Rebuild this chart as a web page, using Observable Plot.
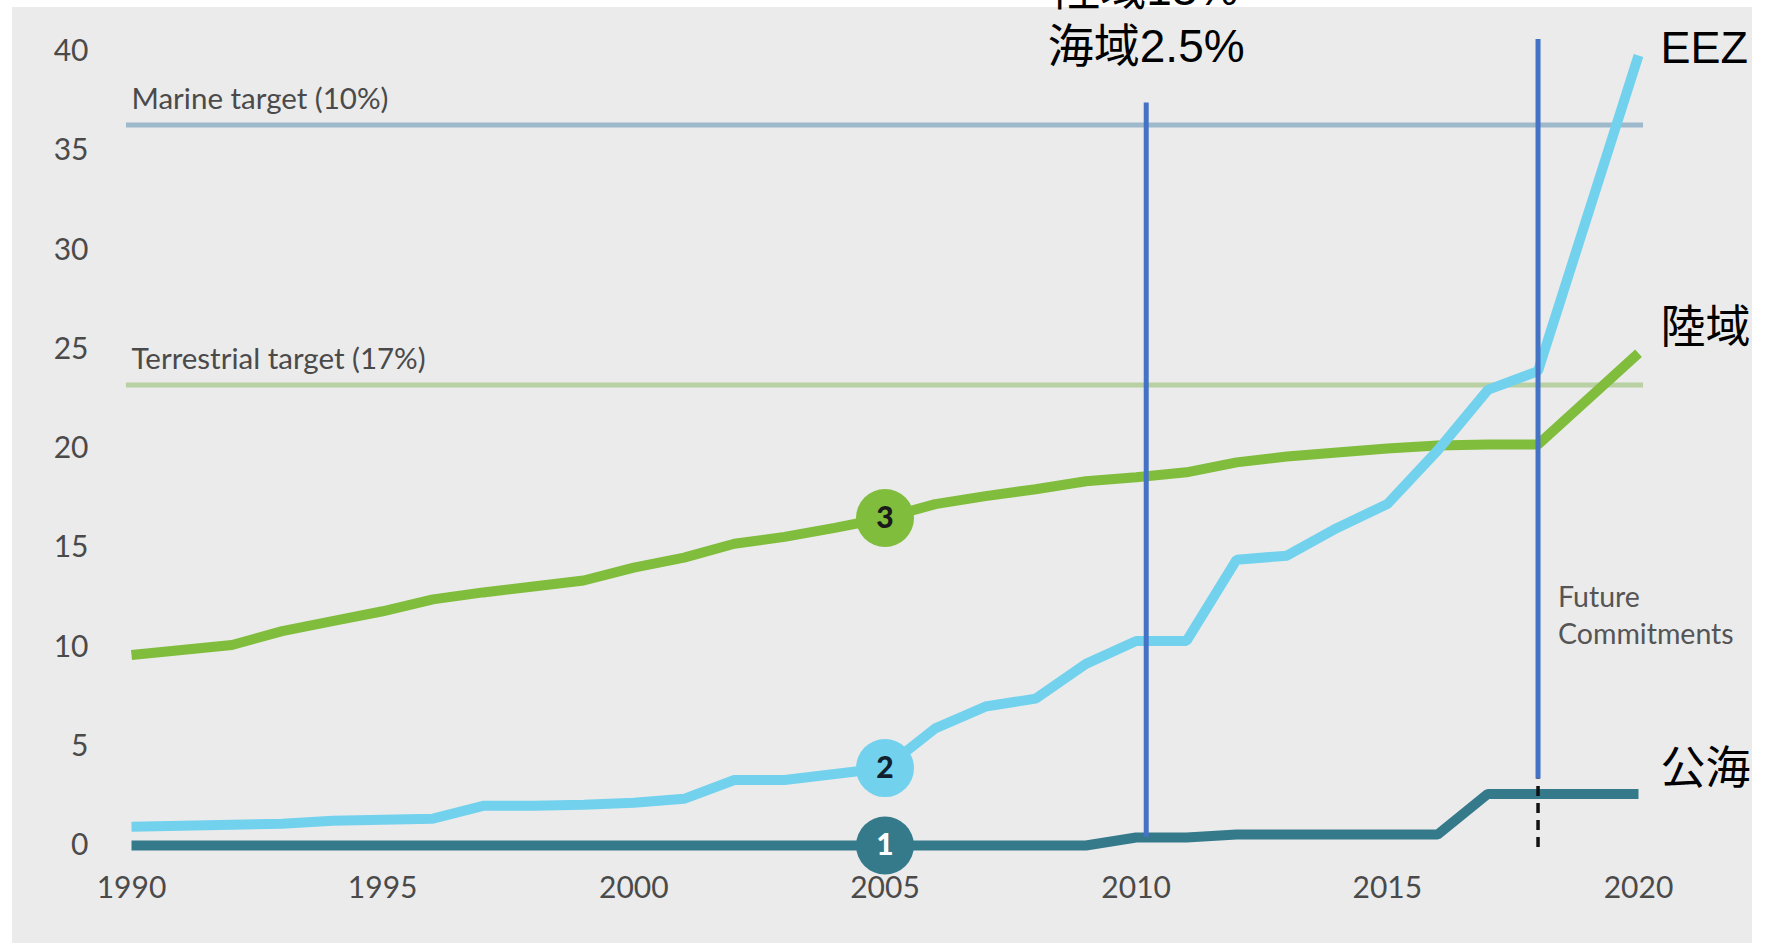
<!DOCTYPE html>
<html><head><meta charset="utf-8">
<script src="https://cdn.jsdelivr.net/npm/d3@7"></script>
<script src="https://cdn.jsdelivr.net/npm/@observablehq/plot@0.6"></script>
<style>html,body{margin:0;padding:0;background:#fff;overflow:hidden}#chart svg{display:block}</style>
</head><body><div id="chart"></div>
<script>
// ---- data ----
const years       = [1990,1991,1992,1993,1994,1995,1996,1997,1998,1999,2000,2001,2002,2003,2004,2005,2006,2007,2008,2009,2010,2011,2012,2013,2014,2015,2016,2017,2018,2020];
const terrestrial = [9.6,9.85,10.1,10.8,11.3,11.8,12.4,12.75,13.05,13.35,14.0,14.5,15.2,15.55,16.0,16.5,17.2,17.6,17.95,18.35,18.55,18.8,19.3,19.6,19.8,20.0,20.15,20.2,20.2,24.8];
const eez         = [0.95,1.0,1.05,1.1,1.25,1.3,1.35,2.0,2.0,2.05,2.15,2.35,3.3,3.3,3.6,3.9,5.9,7.0,7.4,9.15,10.3,10.3,14.4,14.6,16.0,17.2,19.9,22.95,23.9,39.8];
const highSeas    = [0,0,0,0,0,0,0,0,0,0,0,0,0,0,0,0,0,0,0,0,0.4,0.4,0.55,0.55,0.55,0.55,0.55,2.6,2.6,2.6];
const seriesNames  = ["陸域","EEZ","公海"];
const markerLabels = ["3","2","1"];
const markerYear   = 2005;
const xTicks = [1990,1995,2000,2005,2010,2015,2020];
const yTicks = [0,5,10,15,20,25,30,35,40];
const targetValues = [36.3, 23.2];
const targetLabels = ["Marine target (10%)", "Terrestrial target (17%)"];
const milestoneYears   = [2010.2, 2018];
const milestoneTops    = [37.4, 40.6];
const milestoneBottoms = [0.4, 3.35];
const milestoneText = "陸域13%\n海域2.5%";
const futureText = "Future\nCommitments";
const futureY = 10.15;

// ---- styles ----
const colors = {"陸域":"#80bd3c","EEZ":"#72d2ee","公海":"#347a8b"};
const markerTextColor = {"陸域":"#1a1a1a","EEZ":"#10202c","公海":"#ffffff"};
const targetColors = ["#9fb9cc","#b9d0a2"];
const labelDy = {"陸域":-25,"EEZ":-7,"公海":-24};

const valuesBy = [terrestrial, eez, highSeas];
const rows = [];
seriesNames.forEach((s, i) => years.forEach((y, j) => rows.push({series: s, year: y, value: valuesBy[i][j]})));
const markers = seriesNames.map((s, i) => ({series: s, label: markerLabels[i], year: markerYear, value: valuesBy[i][years.indexOf(markerYear)]}));
const ends = seriesNames.map((s, i) => ({series: s, year: years[years.length-1], value: valuesBy[i][years.length-1]}));
const targets = targetValues.map((v, i) => ({value: v, label: targetLabels[i], color: targetColors[i]}));
const milestones = milestoneYears.map((x, i) => ({x, y1: milestoneBottoms[i], y2: milestoneTops[i]}));

const bg = () => {
  const r = document.createElementNS("http://www.w3.org/2000/svg", "rect");
  r.setAttribute("x", 12); r.setAttribute("y", 7);
  r.setAttribute("width", 1740); r.setAttribute("height", 936);
  r.setAttribute("fill", "#ebebeb");
  return r;
};

const light = "Lato, 'Open Sans', sans-serif";
const cjk = "'Liberation Sans', 'Noto Sans CJK JP', sans-serif";

const endLabelMarks = ends.map(e => Plot.text([e], {
  x: "year", y: "value", text: "series", textAnchor: "start",
  dx: 22, dy: labelDy[e.series], fontSize: 45, fill: "#000", fontFamily: cjk
}));

const chart = Plot.plot({
  width: 1768, height: 948,
  marginLeft: 131, marginRight: 130, marginTop: 51, marginBottom: 103,
  style: {background: "#ffffff", color: "#4a4a4a", fontFamily: light},
  x: {domain: [1990, 2020]},
  y: {domain: [0, 40]},
  marks: [
    bg,
    Plot.ruleY(targets, {y: "value", x1: 1989.9, x2: 2020.1, stroke: "color", strokeWidth: 5}),
    Plot.text(targets, {x: 1990, y: "value", text: "label", textAnchor: "start", lineAnchor: "bottom", dy: -16, fontSize: 29.5, fill: "#4a4a4a", fontFamily: light}),
    Plot.line(rows, {x: "year", y: "value", z: "series", stroke: d => colors[d.series], strokeWidth: 10, strokeLinejoin: "miter", strokeLinecap: "butt"}),
    Plot.dot(markers, {x: "year", y: "value", r: 29, fill: d => colors[d.series], stroke: null}),
    Plot.text(markers, {x: "year", y: "value", text: "label", fill: d => markerTextColor[d.series], fontSize: 30, fontWeight: 900, fontFamily: light}),
    Plot.ruleX(milestones, {x: "x", y1: "y1", y2: "y2", stroke: "#4472c4", strokeWidth: 5}),
    Plot.ruleX([milestones[1]], {x: "x", y1: -0.1, y2: "y1", stroke: "#111", strokeWidth: 3.5, strokeDasharray: "10,7"}),
    Plot.text([futureText], {x: milestoneYears[1], y: futureY, text: d => d, textAnchor: "start", lineAnchor: "bottom", lineHeight: 1.3, dx: 20, fontSize: 28.5, fill: "#555", fontFamily: light}),
    ...endLabelMarks,
    Plot.text([milestoneText], {x: milestoneYears[0], frameAnchor: "top", text: d => d, lineAnchor: "bottom", lineHeight: 1.22, dy: 10, fontSize: 46, fill: "#000", fontFamily: cjk}),
    Plot.axisY({ticks: yTicks, tickSize: 0, tickPadding: 43, fontSize: 30, tickFormat: d => String(d)}),
    Plot.axisX({ticks: xTicks, tickSize: 0, tickPadding: 31, fontSize: 30, tickFormat: d => String(d)})
  ]
});
document.getElementById("chart").append(chart);
</script>
</body></html>
